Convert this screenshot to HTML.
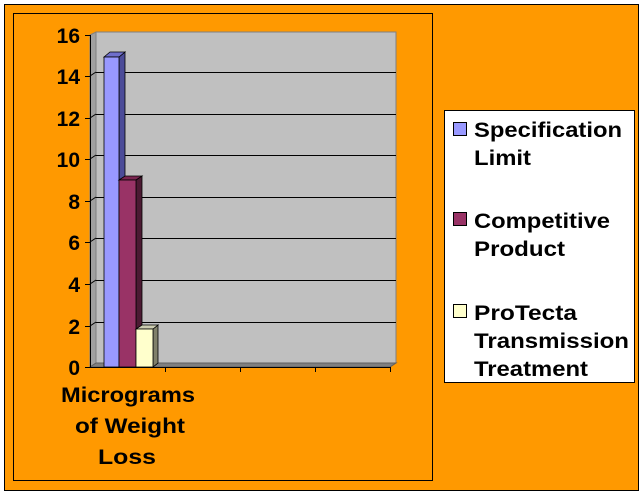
<!DOCTYPE html>
<html><head><style>
body{margin:0;background:#fff;}
svg text{font-family:"Liberation Sans",Arial,sans-serif;font-weight:bold;fill:#000;}
</style></head><body>
<svg width="643" height="494" viewBox="0 0 643 494" xmlns="http://www.w3.org/2000/svg">
<rect x="0" y="0" width="643" height="494" fill="#fff"/>
<rect x="4.5" y="4.5" width="634" height="486" fill="#FF9900" stroke="#000" stroke-width="1"/>
<rect x="13.5" y="13.5" width="419" height="467" fill="none" stroke="#000" stroke-width="1"/>
<polygon points="96,32 396,32 396,363 96,363" fill="#C0C0C0" stroke="#808080"/>
<polygon points="90,35 96,32 96,363 90,367" fill="#A0A0A0" stroke="#808080"/>
<g stroke="#000" stroke-width="1">
<line x1="90" y1="76" x2="96" y2="72"/><line x1="96" y1="72.5" x2="396" y2="72.5"/>
<line x1="90" y1="118" x2="96" y2="114"/><line x1="96" y1="114.5" x2="396" y2="114.5"/>
<line x1="90" y1="159" x2="96" y2="155"/><line x1="96" y1="155.5" x2="396" y2="155.5"/>
<line x1="90" y1="201" x2="96" y2="197"/><line x1="96" y1="197.5" x2="396" y2="197.5"/>
<line x1="90" y1="242" x2="96" y2="238"/><line x1="96" y1="238.5" x2="396" y2="238.5"/>
<line x1="90" y1="284" x2="96" y2="280"/><line x1="96" y1="280.5" x2="396" y2="280.5"/>
<line x1="90" y1="326" x2="96" y2="322"/><line x1="96" y1="322.5" x2="396" y2="322.5"/>
</g>
<polygon points="90,367 390,367 396,363 96,363" fill="#808080" stroke="#606060"/>
<g stroke="#000" stroke-width="1">
<line x1="90.5" y1="35" x2="90.5" y2="367"/>
<line x1="90" y1="367.5" x2="390" y2="367.5"/>
<line x1="85" y1="35.5" x2="90" y2="35.5"/><line x1="85" y1="76.5" x2="90" y2="76.5"/>
<line x1="85" y1="118.5" x2="90" y2="118.5"/><line x1="85" y1="159.5" x2="90" y2="159.5"/>
<line x1="85" y1="201.5" x2="90" y2="201.5"/><line x1="85" y1="242.5" x2="90" y2="242.5"/>
<line x1="85" y1="284.5" x2="90" y2="284.5"/><line x1="85" y1="326.5" x2="90" y2="326.5"/>
<line x1="85" y1="367.5" x2="90" y2="367.5"/>
<line x1="165.5" y1="367" x2="165.5" y2="372"/><line x1="240.5" y1="367" x2="240.5" y2="372"/>
<line x1="315.5" y1="367" x2="315.5" y2="372"/><line x1="390.5" y1="367" x2="390.5" y2="372"/>
</g>
<g stroke="#000" stroke-width="0.8">
<polygon points="119,57 125,52 125,363 119,367" fill="#4C4C99"/>
<polygon points="104,57 110,52 125,52 119,57" fill="#6F6FCC"/>
<rect x="104" y="57" width="15" height="310" fill="#9999FF"/>
<polygon points="136,180 142,176 142,363 136,367" fill="#4C1A33"/>
<polygon points="119,180 125,176 142,176 136,180" fill="#7A2550"/>
<rect x="119" y="180" width="17" height="187" fill="#993366"/>
<polygon points="153,329 158,325 158,363 153,367" fill="#80806A"/>
<polygon points="136,329 142,325 158,325 153,329" fill="#CCCCB0"/>
<rect x="136" y="329" width="17" height="38" fill="#FFFFCC"/>
</g>
<g font-size="21" text-anchor="end">
<text x="80" y="43">16</text><text x="80" y="84">14</text><text x="80" y="126">12</text>
<text x="80" y="167">10</text><text x="80" y="209">8</text><text x="80" y="250">6</text>
<text x="80" y="292">4</text><text x="80" y="334">2</text><text x="80" y="375">0</text>
</g>
<g font-size="21" lengthAdjust="spacingAndGlyphs">
<text x="61" y="402" textLength="134" lengthAdjust="spacingAndGlyphs">Micrograms</text>
<text x="75" y="433" textLength="110" lengthAdjust="spacingAndGlyphs">of Weight</text>
<text x="98" y="464" textLength="58" lengthAdjust="spacingAndGlyphs">Loss</text>
</g>
<rect x="444.5" y="110.5" width="190" height="272" fill="#fff" stroke="#000"/>
<rect x="453.5" y="122.5" width="13" height="13" fill="#9999FF" stroke="#000"/>
<rect x="453.5" y="212.5" width="13" height="13" fill="#993366" stroke="#000"/>
<rect x="453.5" y="304.5" width="13" height="13" fill="#FFFFCC" stroke="#000"/>
<g font-size="21">
<text x="474" y="137" textLength="148" lengthAdjust="spacingAndGlyphs">Specification</text>
<text x="474" y="165" textLength="57" lengthAdjust="spacingAndGlyphs">Limit</text>
<text x="474" y="228" textLength="136" lengthAdjust="spacingAndGlyphs">Competitive</text>
<text x="474" y="256" textLength="91" lengthAdjust="spacingAndGlyphs">Product</text>
<text x="474" y="320" textLength="103" lengthAdjust="spacingAndGlyphs">ProTecta</text>
<text x="474" y="348" textLength="155" lengthAdjust="spacingAndGlyphs">Transmission</text>
<text x="474" y="376" textLength="114" lengthAdjust="spacingAndGlyphs">Treatment</text>
</g>
</svg>
</body></html>
